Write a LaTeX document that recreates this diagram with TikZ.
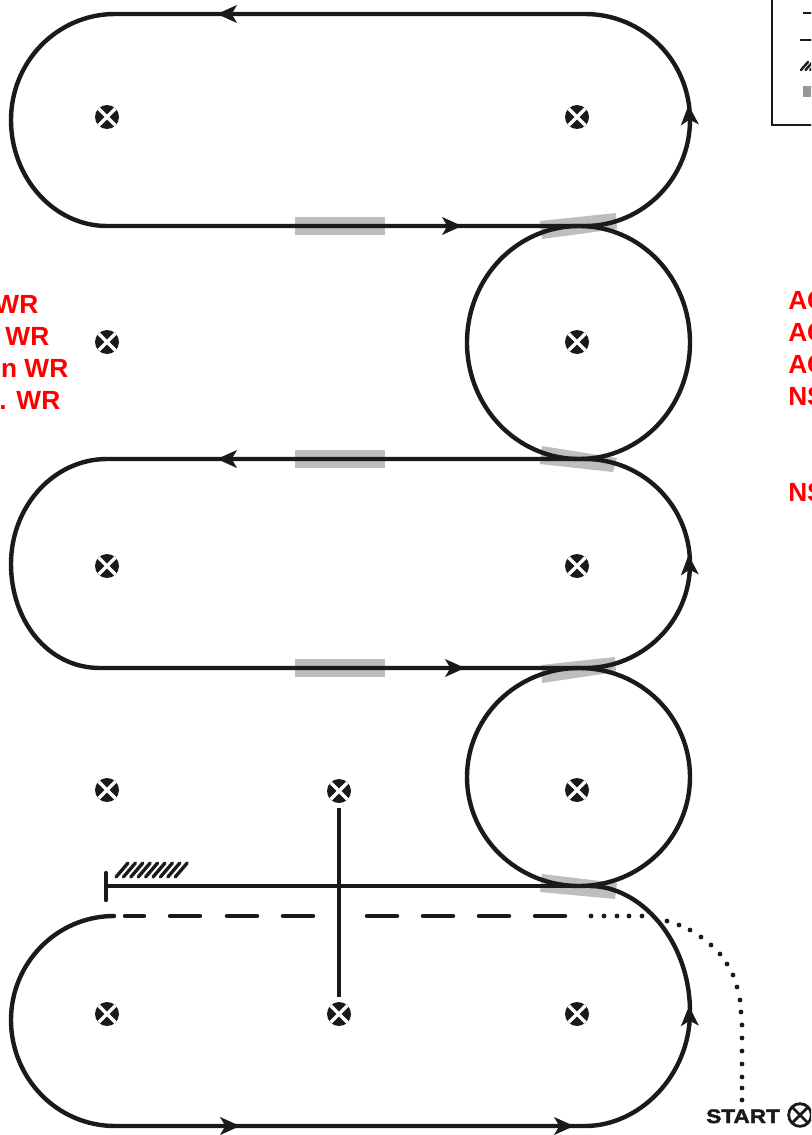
\documentclass[tikz,border=0pt]{standalone}
\usepackage{fontspec}
\setmainfont{Liberation Sans}
\newfontfamily\startfont[FakeBold=2.2,FakeStretch=1.16]{Liberation Sans Bold}
\usetikzlibrary{arrows.meta}
\definecolor{ink}{HTML}{1A1A1A}
\definecolor{band}{HTML}{BEBEBE}
\tikzset{
  route/.style={draw=ink,line width=3.3pt},
  dashpiece/.style={draw=ink,line width=3.3pt,line cap=round},
  dotpiece/.style={fill=ink,draw=none,circle,inner sep=0pt,minimum size=3.6pt},
  bandfill/.style={fill=band,draw=none},
  beacon/.style={circle,fill=ink,draw=none,inner sep=0pt,minimum size=18pt,
    path picture={\draw[white,line width=2.6pt]
      (path picture bounding box.north west)--(path picture bounding box.south east)
      (path picture bounding box.north east)--(path picture bounding box.south west);}},
  startbeacon/.style={circle,draw=ink,line width=2.1pt,fill=white,inner sep=0pt,minimum size=17pt,
    path picture={\draw[ink,line width=2.1pt]
      (path picture bounding box.north west)--(path picture bounding box.south east)
      (path picture bounding box.north east)--(path picture bounding box.south west);}},
  tipmark/.style={draw=ink,line width=1pt,-{Stealth[length=15pt,width=13.5pt,inset=4pt,color=ink]}},
  redlabel/.style={text=red,font=\fontsize{19.7}{19.7}\selectfont\bfseries,inner sep=0pt},
  startlabel/.style={text=ink,font=\fontsize{14.6}{14.6}\startfont,inner sep=0pt},
  legendbox/.style={draw=ink,line width=1.4pt}
}
\begin{document}
\begin{tikzpicture}[x=0.75pt,y=-0.75pt]
\clip (0,0) rectangle (811,1135);
\fill[white] (0,0) rectangle (811,1135);
% grey bands
\foreach \yy in {226,459,668}{\fill[bandfill] (295,\yy-9) rectangle (385,\yy+9);}
\fill[bandfill] (540,221)--(616,213)--(617,229)--(542,239)--cycle;
\fill[bandfill] (542,446)--(617,458)--(613,472)--(540,464)--cycle;
\fill[bandfill] (541,665)--(615,657)--(616,672)--(542,683)--cycle;
\fill[bandfill] (542,874)--(617,883)--(615,899)--(540,892)--cycle;
% top racetrack
\draw[route] (585,14)--(115,14)
  .. controls (58,14) and (11,61) .. (11,120)
  .. controls (11,178) and (54,226) .. (107,226)
  -- (585,226)
  .. controls (643,226) and (690,178) .. (690,120)
  .. controls (690,61) and (643,14) .. (585,14) -- cycle;
% circles
\draw[route] (579,226) .. controls (641,226) and (690,278) .. (690,342.5)
  .. controls (690,407) and (641,459) .. (579,459)
  .. controls (517,459) and (467,407) .. (467,342.5)
  .. controls (467,278) and (517,226) .. (579,226) -- cycle;
\draw[route] (579,668) .. controls (641,668) and (690,717) .. (690,777)
  .. controls (690,837) and (641,886) .. (579,886)
  .. controls (517,886) and (467,837) .. (467,777)
  .. controls (467,717) and (517,668) .. (579,668) -- cycle;
% second racetrack
\draw[route] (585,459)--(107,459)
  .. controls (54,459) and (11,506) .. (11,564)
  .. controls (11,621) and (48,668) .. (100,668)
  -- (585,668)
  .. controls (643,668) and (690,621) .. (690,564)
  .. controls (690,506) and (643,459) .. (585,459) -- cycle;
% third racetrack
\draw[route,line cap=round] (114,916)
  .. controls (57,916) and (11,963) .. (11,1020)
  .. controls (11,1078) and (57,1126) .. (115,1126)
  -- (585,1126)
  .. controls (640,1126) and (690,1075) .. (690,1012)
  .. controls (690,940) and (640,886) .. (590,886);
% taxi line and T bar
\coordinate (tleft) at (106,886);
\coordinate (tright) at (590,886);
\draw[route] (tleft)--(tright);
\draw[dashpiece] (106,873)--(106,900);
% hatch
\foreach \xx in {0,1,...,8}{\draw[draw=ink,line width=2.5pt,line cap=round] (116+\xx*7.4,877)--(128+\xx*7.4,863);}
% dashes
\foreach \aa/\bb in {125/144,170/200,227/257,283/313,367/397,423/453,479/509,535/565}{
  \draw[dashpiece] (\aa,916)--(\bb,916);}
% dotted
\foreach \xx/\yy in {591/916,604/916,617/916,629/916,642/916,667/921,679/925,690/930,701/937,711/945,720/954,727/964,733/975,737/987,740/1000,741/1012,742/1025,742/1038,742/1051,742/1064,742/1077,742/1088,742/1100}{
  \node[dotpiece] at (\xx,\yy) {};}
% beacons
\node[beacon] (b1) at (107,117) {};
\node[beacon] (b2) at (577,117) {};
\node[beacon] (b3) at (107,342) {};
\node[beacon] (b4) at (577,342) {};
\node[beacon] (b5) at (107,566) {};
\node[beacon] (b6) at (577,566) {};
\node[beacon] (b7) at (107,790) {};
\node[beacon] (b8) at (339,791) {};
\node[beacon] (b9) at (577,790) {};
\node[beacon] (b10) at (107,1014) {};
\node[beacon] (b11) at (339,1014) {};
\node[beacon] (b12) at (577,1014) {};
\draw[route,shorten <=3.5pt,shorten >=3.5pt] (b8)--(b11);
% arrowheads
\draw[tipmark] (240,14)--(217,14);
\draw[tipmark] (440,226)--(462,226);
\draw[tipmark] (690,128)--(688.5,105);
\draw[tipmark] (240,459)--(217,459);
\draw[tipmark] (440,668)--(465,668);
\draw[tipmark] (690,578)--(688.5,555);
\draw[tipmark] (215,1126)--(240,1126);
\draw[tipmark] (550,1126)--(574,1126);
\draw[tipmark] (690,1030)--(689,1006);
% legend
\draw[legendbox] (772,-5)--(772,125)--(816,125);
\draw[route,line width=2pt] (803,13)--(816,13);
\draw[route,line width=2pt] (800,40)--(816,40);
\foreach \xx in {0,1,2}{\draw[draw=ink,line width=1.8pt,line cap=round] (801+\xx*4.6,70)--(808+\xx*4.6,62);}
\fill[fill=band!80!black] (803,86) rectangle (812,97);
% labels
\node[redlabel,anchor=base east] (l1) at (38.5,313) {WR};
\node[redlabel,anchor=base east] (l2) at (49.5,345) {WR};
\node[redlabel,anchor=base east] (l3) at (68.5,377) {n WR};
\node[redlabel,anchor=base east] (l4) at (60.5,409) {. WR};
\node[redlabel,anchor=base west] (r1) at (788,309.5) {AC};
\node[redlabel,anchor=base west] (r2) at (788,341.5) {AC};
\node[redlabel,anchor=base west] (r3) at (788,373.5) {AC};
\node[redlabel,anchor=base west] (r4) at (788,405.5) {NS};
\node[redlabel,anchor=base west] (r5) at (788,501) {NS};
\node[startlabel,anchor=base west] (st) at (706,1123) {START};
\node[startbeacon] (sb) at (800,1115) {};
\end{tikzpicture}
\end{document}
